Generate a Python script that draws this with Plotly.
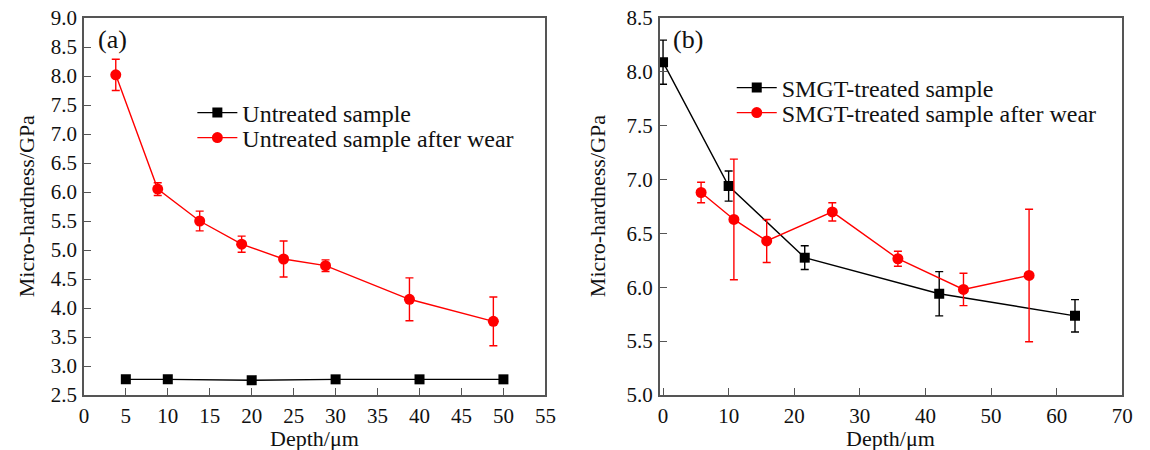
import plotly.graph_objects as go

# ---- panel (a): untreated sample ----
a_depth_untreated = [5, 10, 20, 30, 40, 50]
a_hard_untreated = [2.77, 2.77, 2.755, 2.77, 2.77, 2.77]

a_depth_wear = [3.8, 8.8, 13.8, 18.8, 23.8, 28.8, 38.8, 48.8]
a_hard_wear = [8.02, 6.05, 5.50, 5.10, 4.845, 4.73, 4.15, 3.77]
a_err_wear = [0.27, 0.11, 0.17, 0.14, 0.31, 0.10, 0.37, 0.42]

# ---- panel (b): SMGT-treated sample ----
b_depth_smgt = [0, 10, 21.6, 42.1, 62.8]
b_hard_smgt = [8.09, 6.94, 6.275, 5.94, 5.735]
b_err_smgt = [0.205, 0.14, 0.11, 0.205, 0.15]

b_depth_wear = [5.8, 10.8, 15.8, 25.8, 35.8, 45.8, 55.8]
b_hard_wear = [6.88, 6.63, 6.43, 6.70, 6.265, 5.98, 6.11]
b_err_wear = [0.095, 0.56, 0.20, 0.085, 0.07, 0.15, 0.615]

names_a = ["Untreated sample", "Untreated sample after wear"]
names_b = ["SMGT-treated sample", "SMGT-treated sample after wear"]

FONT = "Liberation Serif"
W, H = 1150, 450
TOP, BOTTOM = 18, 395          # plot area in pixels
PH = BOTTOM - TOP
RED = "#ff0000"
BLACK = "#000000"
FRAME = "#555555"
TXT = "#111111"

def py(ypx):
    """pixel row -> paper y"""
    return (BOTTOM - ypx) / PH

fig = go.Figure()

def add_series(x, y, err, name, color, symbol, size, xa, ya, legend):
    fig.add_trace(go.Scatter(
        x=x, y=y, name=name, mode="lines+markers",
        line=dict(color=color, width=1.4),
        marker=dict(color=color, symbol=symbol, size=size),
        error_y=None if err is None else dict(
            type="data", array=err, visible=True, color=color,
            thickness=1.4, width=4),
        xaxis=xa, yaxis=ya, legend=legend,
    ))

add_series(a_depth_untreated, a_hard_untreated, None, names_a[0], BLACK, "square", 10, "x", "y", "legend")
add_series(a_depth_wear, a_hard_wear, a_err_wear, names_a[1], RED, "circle", 11, "x", "y", "legend2")
add_series(b_depth_smgt, b_hard_smgt, b_err_smgt, names_b[0], BLACK, "square", 10, "x2", "y2", "legend3")
add_series(b_depth_wear, b_hard_wear, b_err_wear, names_b[1], RED, "circle", 11, "x2", "y2", "legend4")

dom_a = [80 / W, 548 / W]
dom_b = [664 / W, 1133 / W]

def axis_style(**kw):
    base = dict(
        showline=True, linecolor=FRAME, linewidth=1.5, mirror=True,
        ticks="inside", ticklen=7, tickcolor=FRAME, tickwidth=1.2,
        showgrid=False, zeroline=False, ticklabelstandoff=1,
        tickfont=dict(family=FONT, size=21, color=TXT),
    )
    base.update(kw)
    return base

def legend_at(xpx, ypx):
    return dict(x=xpx / W, y=py(ypx), xref="paper", yref="paper",
                xanchor="left", yanchor="middle", bgcolor="rgba(0,0,0,0)",
                font=dict(family=FONT, size=24, color=TXT),
                itemwidth=40, borderwidth=0)

fig.update_layout(
    width=W, height=H,
    margin=dict(l=0, r=0, t=TOP, b=H - BOTTOM),
    paper_bgcolor="white", plot_bgcolor="white",
    font=dict(family=FONT, size=22, color=TXT),
    xaxis=axis_style(domain=dom_a, range=[0, 55], dtick=5, tick0=0, anchor="y"),
    yaxis=axis_style(domain=[0, 1], range=[2.5, 9.0], dtick=0.5, tick0=2.5,
                     tickformat=".1f", anchor="x"),
    xaxis2=axis_style(domain=dom_b, range=[-0.5, 70], dtick=10, tick0=0, anchor="y2"),
    yaxis2=axis_style(domain=[0, 1], range=[5.0, 8.5], dtick=0.5, tick0=5.0,
                      tickformat=".1f", anchor="x2"),
    legend=legend_at(190, 113),
    legend2=legend_at(190, 138),
    legend3=legend_at(737, 88),
    legend4=legend_at(737, 113),
    showlegend=True,
)

# panel tags and axis titles
annots = [
    dict(text="(a)", x=93 / W, y=py(40), xanchor="left", yanchor="middle", size=26),
    dict(text="(b)", x=676 / W, y=py(40), xanchor="left", yanchor="middle", size=26),
    dict(text="Micro-hardness/GPa", x=22 / W, y=0.5, textangle=-90,
         xanchor="center", yanchor="middle", size=22),
    dict(text="Micro-hardness/GPa", x=601 / W, y=0.5, textangle=-90,
         xanchor="center", yanchor="middle", size=22),
    dict(text="Depth/μm", x=(80 + 548) / 2 / W, y=py(438),
         xanchor="center", yanchor="middle", size=22),
    dict(text="Depth/μm", x=(664 + 1133) / 2 / W, y=py(438),
         xanchor="center", yanchor="middle", size=22),
]
for a in annots:
    size = a.pop("size")
    fig.add_annotation(xref="paper", yref="paper", showarrow=False, borderpad=0,
                       font=dict(family=FONT, size=size, color=TXT), **a)

fig.write_html("out.html")
